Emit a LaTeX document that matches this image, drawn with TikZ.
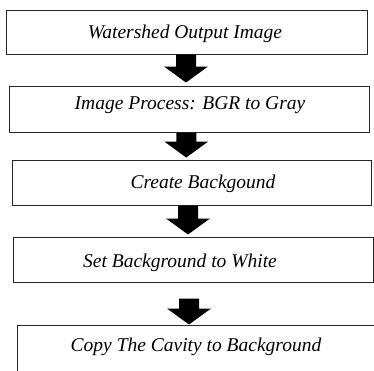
\documentclass[tikz,border=0pt]{standalone}
\usepackage{fontspec}
\setmainfont{Liberation Serif}
\usetikzlibrary{calc}

\begin{document}
\begin{tikzpicture}[x=1pt,y=-1pt,
		stepbox/.style={draw=black!85, line width=1pt, minimum height=#1, inner sep=0pt},
		steptext/.style={anchor=base, inner sep=0pt, font=\itshape\fontsize{19.5}{22}\selectfont},
		blockarrow/.style={fill=black, to path={let \p1=(\tikztostart), \p2=(\tikztotarget) in
			(\x1-10pt,\y1) -- (\x1+10pt,\y1) -- (\x1+10pt,\y2+16pt) -- (\x1+22pt,\y2+16pt)
			-- (\x1,\y2) -- (\x1-22pt,\y2+16pt) -- (\x1-10pt,\y2+16pt) -- cycle}}]
			\useasboundingbox (0,0) rectangle (374,370);
			\node[stepbox=44pt, minimum width=361pt] (b1) at (186.5,32) {};
			\node[stepbox=46pt, minimum width=359.5pt] (b2) at (189.25,109) {};
			\node[stepbox=45pt, minimum width=359pt] (b3) at (191.5,182.5) {};
			\node[stepbox=45pt, minimum width=360pt] (b4) at (193,259.5) {};
			\node[stepbox=47pt, minimum width=360pt] (b5) at (197,348.5) {};
			\node[steptext] (t1) at (185,38) {Watershed Output Image};
			\node[steptext] (t2) at (190,109) {Image Process: BGR to Gray};
			\node[steptext] (t3) at (203,188) {Create Backgound};
			\node[steptext] (t4) at (180,267) {Set Background to White};
			\node[steptext] (t5) at (196,351) {Copy The Cavity to Background};
			\coordinate (a1) at ([xshift=-0.5pt]b1.south);
			\coordinate (a2) at ([xshift=-3pt]b2.south);
			\coordinate (a3) at ([xshift=-3.5pt]b3.south);
			\coordinate (a4) at ([xshift=-4pt,yshift=-16pt]b4.south);
			\path[blockarrow] (a1) to ([yshift=3pt]b2.north);
			\path[blockarrow] (a2) to ([yshift=2pt]b3.north);
			\path[blockarrow] (a3) to ([yshift=2pt]b4.north);
			\path[blockarrow] (a4) to (b5.north);
		\end{tikzpicture}
\end{document}
